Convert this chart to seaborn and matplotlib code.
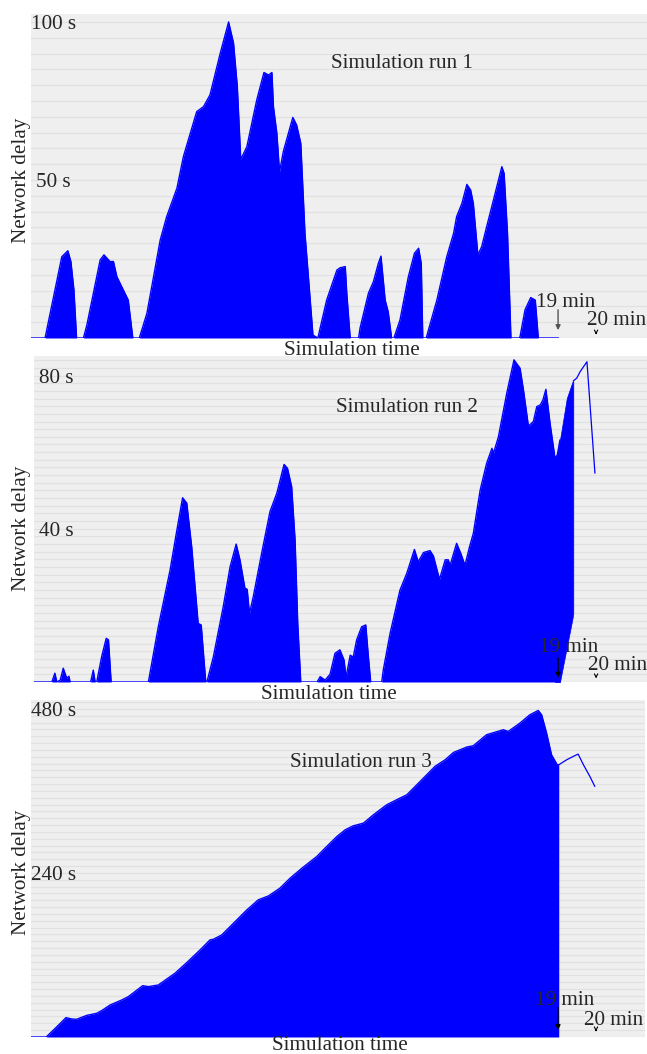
import numpy as np
import matplotlib
matplotlib.use('Agg')
import matplotlib.pyplot as plt
import seaborn as sns

# simulation run 1 : time (min) / network delay (s)
t1 = [5.13, 5.50, 5.94, 6.10, 6.18, 6.26, 6.33, 6.51, 6.60, 6.95, 7.05, 7.21, 7.30, 7.39,
      7.56, 7.69, 7.81, 7.98, 8.18, 8.53, 8.70, 8.97, 9.14, 9.49, 9.67, 9.84, 10.11, 10.33,
      10.46, 10.56, 10.65, 10.81, 11.07, 11.26, 11.38, 11.47, 11.51, 11.60, 11.67, 11.77,
      12.02, 12.12, 12.23, 12.34, 12.43, 12.55, 12.68, 12.74, 12.91, 13.18, 13.26, 13.40,
      13.44, 13.53, 13.75, 13.79, 14.01, 14.14, 14.27, 14.34, 14.45, 14.53, 14.62, 14.68,
      14.84, 15.06, 15.22, 15.33, 15.40, 15.44, 15.53, 15.81, 16.07, 16.25, 16.33, 16.47,
      16.60, 16.70, 16.77, 16.89, 16.99, 17.12, 17.30, 17.52, 17.58, 17.67, 17.76, 17.98,
      18.00, 18.13, 18.28, 18.40, 18.48, 19.01]
d1 = [0, 0, 25.7, 27.6, 24.2, 15.2, 0, 0, 4.1, 24.7, 26.3, 24.2, 24.2, 19.4,
      15.2, 12.0, 0, 0, 7.8, 31.0, 38.4, 47.4, 57.4, 71.6, 73.2, 76.9, 90.1, 100.0,
      93.3, 79.5, 56.5, 60.5, 75.3, 84.0, 83.2, 84.0, 73.2, 64.8, 52.6, 59.0,
      69.8, 67.4, 61.6, 33.1, 19.4, 0.9, 0, 3.2, 12.0, 21.5, 22.2, 22.6,
      14.2, 0, 0, 3.2, 14.2, 17.8, 23.6, 25.9, 12.0, 8.3, 0, 0,
      5.7, 19.4, 26.8, 28.4, 23.6, 0, 0, 12.0, 25.7, 33.1, 38.4, 42.6,
      48.6, 46.8, 42.6, 26.3, 28.9, 35.2, 43.7, 54.2, 52.1, 33.1, 0, 0,
      0.5, 8.9, 12.8, 12.0, 0, 0]

# simulation run 2
t2 = [5.21, 5.68, 5.76, 5.81, 5.90, 5.98, 6.07, 6.13, 6.16, 6.70, 6.77, 6.82, 6.86, 6.99,
      7.11, 7.17, 7.24, 8.22, 8.48, 8.79, 8.97, 9.12, 9.23, 9.36, 9.53, 9.61, 9.73, 9.76,
      9.93, 10.19, 10.37, 10.53, 10.63, 10.76, 10.82, 10.88, 10.98, 11.20, 11.42, 11.60,
      11.79, 11.88, 11.99, 12.08, 12.15, 12.23, 12.66, 12.74, 12.87, 13.00, 13.13, 13.26,
      13.37, 13.42, 13.53, 13.61, 13.70, 13.83, 13.94, 14.01, 14.07, 14.36, 14.40, 14.58,
      14.84, 15.02, 15.22, 15.32, 15.46, 15.63, 15.72, 15.88, 16.03, 16.11, 16.16, 16.33,
      16.44, 16.55, 16.67, 16.77, 16.95, 17.12, 17.26, 17.30, 17.43, 17.65, 17.84, 18.00,
      18.09, 18.22, 18.35, 18.44, 18.53, 18.60, 18.68, 18.79, 18.92, 18.98, 19.05]
d2 = [0, 0, 2.3, 0, 0.5, 3.6, 1.0, 1.5, 0, 0, 3.1, 0, 0, 6.6,
      11.4, 11.0, 0, 0, 14.4, 29.2, 39.7, 48.1, 46.7, 35.3, 15.3, 14.9, 0, 0,
      6.6, 19.7, 30.1, 36.0, 31.9, 24.5, 24.2, 17.9, 22.3, 33.6, 44.5, 49.3,
      56.8, 55.8, 51.0, 37.1, 15.3, 0, 0, 1.4, 0.5, 2.0, 7.5, 8.4,
      5.7, 1.2, 7.0, 6.5, 11.0, 14.4, 14.9, 6.5, 0, 0, 3.1, 12.7,
      24.0, 28.4, 34.6, 31.4, 33.8, 34.3, 32.9, 26.8, 31.9, 31.9, 30.5, 36.2,
      33.6, 30.5, 35.3, 38.8, 50.1, 57.1, 61.0, 59.7, 64.0, 75.4, 84.1, 81.9,
      76.2, 66.8, 68.0, 71.9, 72.3, 73.6, 76.4, 67.5, 58.4, 59.3, 63.2]
# last part of run 2: band between a rising lower edge and the delay curve
t2_tail = [18.92, 18.98, 19.05, 19.23, 19.38, 19.40]
top2_tail = [58.4, 59.3, 63.2, 74.1, 78.4, 78.6]
low2_tail = [0, 0, 0, 9.1, 16.6, 18.0]
t2_line = [19.40, 19.49, 19.58, 19.76, 19.97]
d2_line = [78.6, 79.3, 81.0, 83.6, 54.5]

# simulation run 3
t3 = [5.13, 5.53, 5.81, 6.05, 6.20, 6.33, 6.60, 6.86, 6.99, 7.21, 7.52, 7.69, 8.07, 8.22,
      8.48, 8.92, 9.23, 9.58, 9.84, 9.93, 10.15, 10.46, 10.81, 11.11, 11.38, 11.68, 11.95,
      12.26, 12.65, 12.91, 13.18, 13.40, 13.61, 13.88, 14.14, 14.49, 14.84, 15.02, 15.37,
      15.76, 16.03, 16.25, 16.60, 16.77, 17.12, 17.56, 17.69, 18.00, 18.26, 18.48, 18.57,
      18.70, 18.83, 18.98, 19.02]
d3 = [0, 0, 15.0, 28.3, 26.4, 25.9, 31.7, 34.7, 38.6, 46.8, 54.2, 59.0, 75.1, 73.7,
      76.1, 93.3, 108.9, 127.4, 142.0, 143.0, 149.3, 166.5, 185.9, 200.6, 206.4, 217.7, 232.4,
      247.0, 264.0, 278.6, 293.3, 303.1, 308.9, 312.9, 325.0, 339.7, 349.5, 354.3, 373.8,
      395.8, 405.6, 416.3, 424.2, 426.1, 442.2, 449.5, 447.0, 459.3, 471.4, 477.7, 471.4,
      444.7, 412.9, 398.2, 398.2]
t3_line = [19.02, 19.23, 19.40, 19.53, 19.67, 19.84, 19.97]
d3_line = [398.2, 405.6, 410.4, 413.9, 398.2, 381.1, 366.5]

y_ticks = [[50, 100], [40, 80], [240, 480]]
y_labels = [['50 s', '100 s'], ['40 s', '80 s'], ['240 s', '480 s']]
run_names = ['Simulation run 1', 'Simulation run 2', 'Simulation run 3']
mark_labels = ['19 min', '20 min']

BLUE = '#0000ff'
sns.set_theme(style='whitegrid', rc={
    'axes.facecolor': '#efefef',
    'grid.color': '#e1e1e1',
    'grid.linewidth': 0.9,
    'axes.edgecolor': '#efefef',
})
plt.rcParams['font.family'] = ['Liberation Serif', 'DejaVu Serif']
FS = 15.2
VA = 'center_baseline'

fig = plt.figure(figsize=(6.47, 10.54), dpi=100)
W, H = 647, 1054

# layout of each panel: (left, top, right, bottom) in pixels, xlim, ylim, grid step
layout = [
    dict(px=(31, 14, 647, 338), xlim=(5.13, 21.34), ylim=(0, 102.5), step=5,
         run=(0.602, 0.855), arr_col='#555555',
         m19=(19.2, 12.0, 9.8, 1.6), m20=(20.53, 6.3, 2.6, 0.2)),
    dict(px=(34, 356, 647, 682), xlim=(5.21, 21.34), ylim=(0, 85.1), step=2,
         run=(0.608, 0.85), arr_col='black',
         m19=(19.28, 9.7, 7.0, 0.4), m20=(20.57, 5.0, 2.3, 0.2)),
    dict(px=(31, 700, 645, 1037), xlim=(5.13, 21.29), ylim=(0, 493), step=10,
         run=(0.537, 0.822), arr_col='black',
         m19=(19.17, 57, 47, 6), m20=(20.47, 27.8, 14.6, 4)),
]
time_label_pos = [(352, 348), (329, 692), (340, 1043)]
delay_label_pos = [(22, 180), (22, 528), (22, 872)]

series = [
    (t1, d1, None, None),
    (t2, d2, (t2_tail, top2_tail, low2_tail), (t2_line, d2_line)),
    (t3, d3, None, (t3_line, d3_line)),
]

for i, (cfg, (tt, dd, tail, line)) in enumerate(zip(layout, series)):
    l, t, r, b = cfg['px']
    ax = fig.add_axes([l / W, 1 - b / H, (r - l) / W, (b - t) / H])
    ax.fill_between(tt, 0, dd, color=BLUE, lw=0, zorder=3)
    sns.lineplot(x=tt, y=dd, ax=ax, color=BLUE, lw=1, estimator=None, sort=False, zorder=3)
    if tail is not None:
        ax.fill_between(tail[0], tail[2], tail[1], color=BLUE, lw=0.5, edgecolor=BLUE, zorder=3)
    if line is not None:
        sns.lineplot(x=line[0], y=line[1], ax=ax, color=BLUE, lw=0.9, estimator=None,
                     sort=False, zorder=3)
    ax.set_xlim(*cfg['xlim'])
    ax.set_ylim(*cfg['ylim'])
    ax.set_yticks(np.arange(0, cfg['ylim'][1], cfg['step']))
    ax.set_xticks([])
    ax.tick_params(labelleft=False, left=False, bottom=False)
    ax.grid(axis='x', visible=False)
    for s in ax.spines.values():
        s.set_visible(False)
    ax.set_xlabel('')
    ax.set_ylabel('')

    tr = ax.get_yaxis_transform()
    for v, lab in zip(y_ticks[i], y_labels[i]):
        ax.text(0.037, v, lab, transform=tr, ha='center', va=VA, fontsize=FS, zorder=5)

    ax.text(cfg['run'][0], cfg['run'][1], run_names[i], transform=ax.transAxes,
            ha='center', va=VA, fontsize=FS, zorder=5)

    x19, ty, y0, y1 = cfg['m19']
    ax.text(x19, ty, mark_labels[0], ha='center', va=VA, fontsize=FS, zorder=6)
    ax.annotate('', xy=(19.0, y1), xytext=(19.0, y0),
                arrowprops=dict(arrowstyle='-|>', color=cfg['arr_col'], lw=1,
                                mutation_scale=7), zorder=6)
    x20, ty, y0, y1 = cfg['m20']
    ax.text(x20, ty, mark_labels[1], ha='center', va=VA, fontsize=FS, zorder=6)
    ax.annotate('', xy=(20.0, y1), xytext=(20.0, y0),
                arrowprops=dict(arrowstyle='->', color='black', lw=0.8,
                                mutation_scale=6), zorder=6)

    fx, fy = time_label_pos[i]
    fig.text(fx / W, 1 - fy / H, 'Simulation time', ha='center', va=VA, fontsize=FS)
    fx, fy = delay_label_pos[i]
    fig.text(fx / W, 1 - fy / H, 'Network delay', ha='center', va='center',
             rotation=90, fontsize=FS)

fig.savefig('out.png', dpi=100, facecolor='white')
